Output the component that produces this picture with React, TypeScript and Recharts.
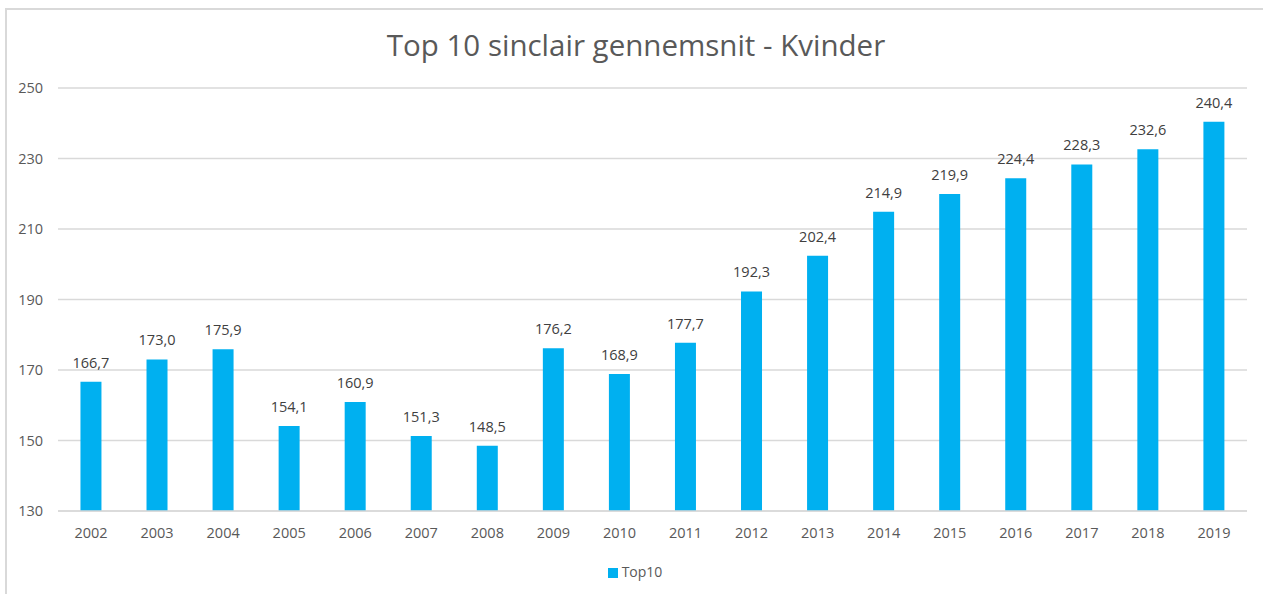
import { BarChart, Bar, XAxis, YAxis, CartesianGrid, LabelList, Legend } from "recharts";

const years = ["2002", "2003", "2004", "2005", "2006", "2007", "2008", "2009", "2010", "2011", "2012", "2013", "2014", "2015", "2016", "2017", "2018", "2019"];
const top10 = [166.7, 173.0, 175.9, 154.1, 160.9, 151.3, 148.5, 176.2, 168.9, 177.7, 192.3, 202.4, 214.9, 219.9, 224.4, 228.3, 232.6, 240.4];
const yTicks = [130, 150, 170, 190, 210, 230, 250];

const data = years.map((y, i) => ({ year: y, Top10: top10[i] }));

const font = "'Open Sans', sans-serif";
const fmt = (v: any) => Number(v).toFixed(1).replace(".", ",");

const App = () => {
  return (
    <div style={{ position: "absolute", left: 0, top: 0, width: 1263, height: 594, background: "#fff", fontFamily: font }}>
      <div style={{ position: "absolute", left: 5, top: 8, right: -2, bottom: -2, borderTop: "2px solid #d9d9d9", borderLeft: "2px solid #d9d9d9" }} />
      <div style={{ position: "absolute", left: 0, width: 1272, top: 24, textAlign: "center", fontSize: 29.5, color: "#595959" }}>
        Top 10 sinclair gennemsnit - Kvinder
      </div>
      <div style={{ position: "absolute", left: 0, top: 0 }}>
        <BarChart
          width={1263}
          height={594}
          data={data}
          margin={{ top: 88, right: 16, left: 0, bottom: 0 }}
          barCategoryGap="34%"
        >
          <CartesianGrid vertical={false} stroke="#d9d9d9" strokeWidth={1.3} />
          <XAxis
            dataKey="year"
            height={64}
            tickSize={0}
            tickMargin={17}
            axisLine={{ stroke: "#d9d9d9", strokeWidth: 1.3 }}
            tickLine={false}
            tick={{ fill: "#595959", fontSize: 14.5, fontFamily: font }}
          />
          <YAxis
            width={58}
            domain={[130, 250]}
            ticks={yTicks}
            interval={0}
            tickSize={0}
            tickMargin={15}
            axisLine={false}
            tickLine={false}
            tick={{ fill: "#595959", fontSize: 14.5, fontFamily: font }}
          />
          <Legend
            verticalAlign="bottom"
            align="center"
            iconType="square"
            iconSize={10}
            wrapperStyle={{ bottom: 13, left: 40, width: 1200, fontSize: 14, fontFamily: font }}
            formatter={(value: any) => <span style={{ color: "#595959" }}>{value}</span>}
          />
          <Bar dataKey="Top10" fill="#00b0f0" isAnimationActive={false}>
            <LabelList
              dataKey="Top10"
              position="top"
              offset={14}
              formatter={fmt}
              style={{ fill: "#404040", fontSize: 14.5, fontFamily: font }}
            />
          </Bar>
        </BarChart>
      </div>
    </div>
  );
};

export default App;
